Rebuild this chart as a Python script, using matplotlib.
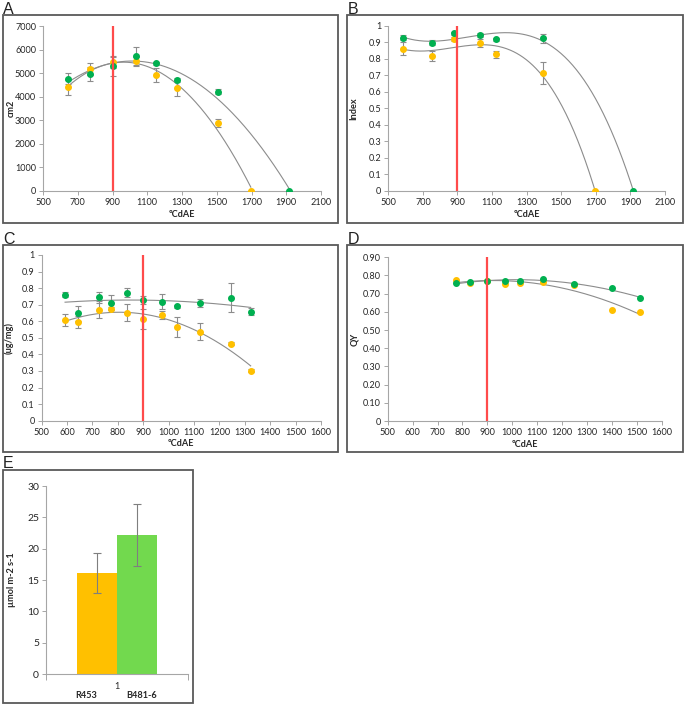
import numpy as np
import matplotlib
matplotlib.use("Agg")
import matplotlib.pyplot as plt
from matplotlib.patches import Rectangle

plt.rcParams['font.family'] = ['Lato', 'DejaVu Sans']

ORANGE = '#FFC000'
GREEN = '#00B050'
BAR_GREEN = '#72D94E'
RED = '#FF4B4B'
TREND = '#8C8C8C'
ERR = '#8C8C8C'
SPINE = '#A6A6A6'
TXT = '#262626'

# ---------------- data ----------------
# Panel A (leaf area, cm2)
a_x_green = [644, 768, 900, 1033, 1153, 1270, 1510, 1918]
a_y_green = [4761, 4960, 5314, 5725, 5413, 4705, 4209, 0]
a_e_green = [230, 300, 420, 400, 60, 80, 100, 0]
a_x_orange = [644, 768, 900, 1033, 1153, 1270, 1510, 1696]
a_y_orange = [4393, 5172, 5456, 5498, 4917, 4379, 2891, 0]
a_e_orange = [330, 250, 250, 200, 300, 330, 180, 0]

# Panel B (Index)
b_x_green = [587, 751, 882, 1032, 1123, 1396, 1917]
b_y_green = [0.927, 0.897, 0.954, 0.944, 0.917, 0.923, 0.0]
b_e_green = [0.015, 0.015, 0.01, 0.012, 0.01, 0.025, 0.0]
b_x_orange = [587, 751, 882, 1032, 1123, 1396, 1695]
b_y_orange = [0.861, 0.819, 0.919, 0.895, 0.827, 0.712, 0.0]
b_e_orange = [0.04, 0.03, 0.01, 0.025, 0.022, 0.067, 0.0]

# Panel C (ug/mg)
c_x = [592, 644, 726, 774, 835, 900, 973, 1034, 1124, 1246, 1323]
c_y_green = [0.759, 0.648, 0.744, 0.712, 0.773, 0.730, 0.718, 0.690, 0.710, 0.742, 0.658]
c_e_green = [0.015, 0.045, 0.033, 0.045, 0.025, 0.025, 0.045, 0.01, 0.026, 0.087, 0.022]
c_y_orange = [0.608, 0.594, 0.670, 0.676, 0.652, 0.612, 0.636, 0.563, 0.537, 0.465, 0.302]
c_e_orange = [0.037, 0.035, 0.05, 0.01, 0.05, 0.06, 0.025, 0.06, 0.05, 0.01, 0.008]

# Panel D (QY)
d_x = [773, 830, 899, 969, 1031, 1124, 1247, 1399, 1512]
d_y_green = [0.757, 0.766, 0.771, 0.770, 0.768, 0.781, 0.755, 0.729, 0.674]
d_y_orange = [0.775, 0.757, 0.770, 0.755, 0.760, 0.764, 0.749, 0.610, 0.601]

# Panel E (bars)
e_labels = ['R453', 'B481-6']
e_values = [16.1, 22.2]
e_errors = [3.2, 4.9]

ab_xticks = [500, 700, 900, 1100, 1300, 1500, 1700, 1900, 2100]
cd_xticks = [500, 600, 700, 800, 900, 1000, 1100, 1200, 1300, 1400, 1500, 1600]
a_yticks = [0, 1000, 2000, 3000, 4000, 5000, 6000, 7000]
bc_yticks = [0, 0.1, 0.2, 0.3, 0.4, 0.5, 0.6, 0.7, 0.8, 0.9, 1.0]
bc_yticklabels = ['0', '0.1', '0.2', '0.3', '0.4', '0.5', '0.6', '0.7', '0.8', '0.9', '1']
d_yticks = [0, 0.1, 0.2, 0.3, 0.4, 0.5, 0.6, 0.7, 0.8, 0.9]
d_yticklabels = ['0', '0.10', '0.20', '0.30', '0.40', '0.50', '0.60', '0.70', '0.80', '0.90']
e_yticks = [0, 5, 10, 15, 20, 25, 30]

W, H = 685, 708
fig = plt.figure(figsize=(W / 100, H / 100), dpi=100)


def ax_at(l, t, r, b):
    ax = fig.add_axes([l / W, 1 - b / H, (r - l) / W, (b - t) / H])
    ax._px = (l, r)
    return ax


def frame(l, t, r, b, letter):
    fig.add_artist(Rectangle((l / W, 1 - b / H), (r - l) / W, (b - t) / H,
                             transform=fig.transFigure, fill=False,
                             edgecolor='#595959', lw=1.3))
    fig.text((l + 0.5) / W, 1 - (t - 1.5) / H, letter, fontsize=11.5,
             family='Liberation Sans', color='#222222', va='baseline', ha='left')


def style(ax):
    for s in ['top', 'right']:
        ax.spines[s].set_visible(False)
    for s in ['left', 'bottom']:
        ax.spines[s].set_color(SPINE)
        ax.spines[s].set_linewidth(0.8)
    ax.tick_params(axis='both', direction='out', length=3, width=0.7,
                   color=SPINE, labelsize=6.6, labelcolor=TXT, pad=2)


def series(ax, x, y, e, color, fit_deg):
    x = np.asarray(x, float)
    y = np.asarray(y, float)
    coef = np.polyfit(x, y, fit_deg)
    xx = np.linspace(x.min(), x.max(), 300)
    ax.plot(xx, np.polyval(coef, xx), color=TREND, lw=0.8, zorder=2)
    if e is not None:
        ax.errorbar(x, y, yerr=e, fmt='none', ecolor=ERR, elinewidth=0.8,
                    capsize=2.5, capthick=0.8, zorder=3)
    ax.plot(x, y, 'o', color=color, ms=4.0, mec=color, zorder=4)


def xlabel(ax, txt):
    ax.set_xlabel(txt, fontsize=6.6, fontweight='bold', color=TXT, labelpad=2)


def ylabel(ax, txt, xpix):
    ax.set_ylabel(txt, fontsize=6.6, fontweight='bold', color=TXT)
    ax.yaxis.label.set_verticalalignment('center')
    l, r = ax._px
    ax.yaxis.set_label_coords((xpix - l) / (r - l), 0.5)


# ---------- A ----------
frame(2.5, 15, 338, 222.5, 'A')
axA = ax_at(43, 26, 321, 191)
style(axA)
series(axA, a_x_orange, a_y_orange, a_e_orange, ORANGE, 2)
series(axA, a_x_green, a_y_green, a_e_green, GREEN, 2)
axA.plot([900, 900], [0, 7000], color=RED, lw=1.6, zorder=5)
axA.set_xlim(500, 2100)
axA.set_ylim(0, 7000)
axA.set_xticks(ab_xticks)
axA.set_yticks(a_yticks)
xlabel(axA, 'ºCdAE')
ylabel(axA, 'cm2', 11)

# ---------- B ----------
frame(347, 15, 683, 222.5, 'B')
axB = ax_at(388.3, 25.7, 665, 191)
style(axB)
series(axB, b_x_orange, b_y_orange, b_e_orange, ORANGE, 3)
series(axB, b_x_green, b_y_green, b_e_green, GREEN, 3)
axB.plot([900, 900], [0, 1], color=RED, lw=1.6, zorder=5)
axB.set_xlim(500, 2100)
axB.set_ylim(0, 1)
axB.set_xticks(ab_xticks)
axB.set_yticks(bc_yticks)
axB.set_yticklabels(bc_yticklabels)
xlabel(axB, 'ºCdAE')
ylabel(axB, 'Index', 354)

# ---------- C ----------
frame(2.5, 245, 338, 452, 'C')
axC = ax_at(41.7, 255, 321, 420.7)
style(axC)
series(axC, c_x, c_y_orange, c_e_orange, ORANGE, 2)
series(axC, c_x, c_y_green, c_e_green, GREEN, 2)
axC.plot([900, 900], [0, 1], color=RED, lw=1.6, zorder=5)
axC.set_xlim(500, 1600)
axC.set_ylim(0, 1)
axC.set_xticks(cd_xticks)
axC.set_yticks(bc_yticks)
axC.set_yticklabels(bc_yticklabels)
xlabel(axC, 'ºCdAE')
ylabel(axC, '(ug/mg)', 9)

# ---------- D ----------
frame(347, 245, 683, 452, 'D')
axD = ax_at(387.7, 257.3, 661.7, 421)
style(axD)
series(axD, d_x, d_y_orange, None, ORANGE, 2)
series(axD, d_x, d_y_green, None, GREEN, 2)
axD.plot([900, 900], [0, 0.9], color=RED, lw=1.6, zorder=5)
axD.set_xlim(500, 1600)
axD.set_ylim(0, 0.9)
axD.set_xticks(cd_xticks)
axD.set_yticks(d_yticks)
axD.set_yticklabels(d_yticklabels)
xlabel(axD, 'ºCdAE')
ylabel(axD, 'QY', 355)

# ---------- E ----------
frame(2.5, 470, 193, 703, 'E')
axE = ax_at(46, 486, 188, 674)
style(axE)
bw = 40 / 142
pos = [1 - bw / 2, 1 + bw / 2]
axE.bar(pos, e_values, width=bw, color=[ORANGE, BAR_GREEN], zorder=2)
axE.errorbar(pos, e_values, yerr=e_errors, fmt='none', ecolor='#7F7F7F',
             elinewidth=0.8, capsize=3, capthick=0.8, zorder=3)
axE.set_xlim(0.5, 1.5)
axE.set_ylim(0, 30)
axE.set_yticks(e_yticks)
axE.set_xticks([0.5, 1.5])
axE.set_xticklabels(['', ''])
axE.tick_params(axis='x', length=4)
axE.tick_params(axis='y', labelsize=7.5)
axE.text(1, -1.2, '1', ha='center', va='top', fontsize=6.6, color=TXT)
axE.text(pos[0] - 0.08, -2.7, e_labels[0], ha='center', va='top',
         fontsize=6.6, fontweight='bold', color=TXT)
axE.text(pos[1] + 0.03, -2.7, e_labels[1], ha='center', va='top',
         fontsize=6.6, fontweight='bold', color=TXT)
ylabel(axE, 'µmol m-2 s-1', 12)

fig.savefig('out.png', dpi=100)
